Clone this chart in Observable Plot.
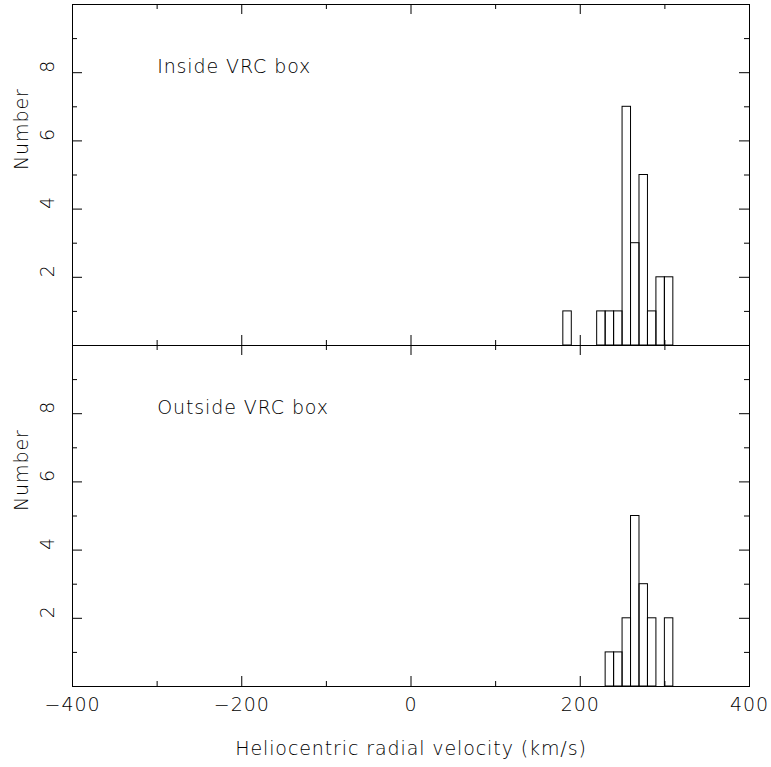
<!DOCTYPE html>
<html><head><meta charset="utf-8">
<script src="https://cdn.jsdelivr.net/npm/d3@7"></script>
<script src="https://cdn.jsdelivr.net/npm/@observablehq/plot@0.6"></script>
<style>body{margin:0;background:#fff;}</style>
</head><body><div id="chart"></div>
<script>
// --- data ---
const binStarts = [180,190,200,210,220,230,240,250,260,270,280,290,300];
const binWidth = 10;
const insideCounts  = [1,0,0,0,1,1,1,7,3,5,1,2,2];
const outsideCounts = [0,0,0,0,0,1,1,2,5,3,2,0,2];
const panels = ["Inside", "Outside"];
const panelLabels = ["Inside VRC box", "Outside VRC box"];
const xMajorTicks = [-400,-200,0,200,400];
const xMinorTicks = [-300,-100,100,300];
const yMajorTicks = [2,4,6,8];
const yMinorTicks = [1,3,5,7,9];
const xTitle = "Heliocentric radial velocity (km/s)";
const yTitle = "Number";

// --- layout ---
const W = 771, H = 767;
const mL = 72, mR = 22, mT = 4, mB = 81;
const plotW = W - mL - mR;
const facetH = (H - mT - mB) / 2;
const FS = 19;
const FONT = "'DejaVu Sans', sans-serif";
const TXT = "#000";

const bars = [];
[insideCounts, outsideCounts].forEach((counts, p) => {
  counts.forEach((c, i) => {
    if (c > 0) bars.push({fy: panels[p], x1: binStarts[i], x2: binStarts[i] + binWidth, y1: 0, y2: c});
  });
});
const labels = panels.map((p, i) => ({fy: p, text: panelLabels[i]}));
const fmt = d => d < 0 ? "\u2212" + Math.abs(d) : String(d);
const txt = {fontSize: FS, fill: TXT, fontWeight: 200};

const chart = Plot.plot({
  width: W, height: H,
  marginLeft: mL, marginRight: mR, marginTop: mT, marginBottom: mB,
  style: {background: "white", color: "black", fontFamily: FONT, fontSize: FS + "px", letterSpacing: "0.9px"},
  x: {domain: [-400, 400], axis: null},
  y: {domain: [0, 10], axis: null},
  fy: {domain: panels, padding: 0, axis: null},
  marks: [
    Plot.rect(bars, {x1: "x1", x2: "x2", y1: "y1", y2: "y2", fy: "fy", fill: "none", stroke: "black", strokeWidth: 1}),
    Plot.frame({stroke: "black"}),
    // inward ticks: left / right
    Plot.tickY(yMajorTicks, {y: d => d, insetRight: plotW - 10, stroke: "black"}),
    Plot.tickY(yMinorTicks, {y: d => d, insetRight: plotW - 5, stroke: "black"}),
    Plot.tickY(yMajorTicks, {y: d => d, insetLeft: plotW - 10, stroke: "black"}),
    Plot.tickY(yMinorTicks, {y: d => d, insetLeft: plotW - 5, stroke: "black"}),
    // inward ticks: bottom / top
    Plot.tickX(xMajorTicks, {x: d => d, insetTop: facetH - 10, stroke: "black"}),
    Plot.tickX(xMinorTicks, {x: d => d, insetTop: facetH - 5, stroke: "black"}),
    Plot.tickX(xMajorTicks, {x: d => d, insetBottom: facetH - 10, stroke: "black"}),
    Plot.tickX(xMinorTicks, {x: d => d, insetBottom: facetH - 5, stroke: "black"}),
    // y tick labels (rotated)
    Plot.text(yMajorTicks, {y: d => d, frameAnchor: "left", dx: -25, rotate: -90, text: d => String(d), ...txt}),
    // y title
    Plot.text([yTitle], {frameAnchor: "left", dx: -51, dy: -5, rotate: -90, text: d => d, ...txt}),
    // x tick labels (bottom panel only)
    Plot.text(xMajorTicks, {x: d => d, fy: () => "Outside", frameAnchor: "bottom", dy: 24, text: fmt, ...txt}),
    // x title
    Plot.text([xTitle], {fy: () => "Outside", frameAnchor: "bottom", dy: 68, text: d => d, ...txt}),
    // panel labels
    Plot.text(labels, {x: () => -300, y: () => 8, fy: "fy", text: "text", textAnchor: "start", lineAnchor: "bottom", ...txt})
  ]
});
document.getElementById("chart").appendChild(chart);
</script>
</body></html>
